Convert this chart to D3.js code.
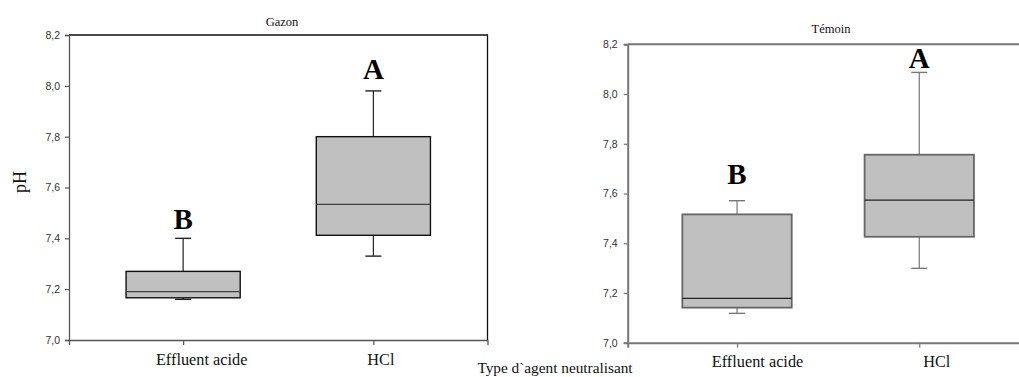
<!DOCTYPE html>
<html>
<head>
<meta charset="utf-8">
<script src="https://cdn.jsdelivr.net/npm/d3@7"></script>
<style>
  body { margin: 0; background: #fff; }
  svg { display: block; }
</style>
</head>
<body>
<svg id="chart" width="1019" height="377"></svg>
<script>
// categories and five-number summaries [min, q1, median, q3, max]
const categories = ['Effluent acide', 'HCl'];
const gazonStats = [
    [7.16, 7.166, 7.19, 7.27, 7.40],
    [7.33, 7.412, 7.534, 7.80, 7.98]
];
const temoinStats = [
    [7.118, 7.141, 7.178, 7.516, 7.571],
    [7.299, 7.426, 7.573, 7.756, 8.087]
];
// significance letters and the pH level where they sit
const gazonLetters = ['B', 'A'];
const gazonLetterY = [7.435, 8.025];
const temoinLetters = ['B', 'A'];
const temoinLetterY = [7.64, 8.105];
const yTicks = [7.0, 7.2, 7.4, 7.6, 7.8, 8.0, 8.2];

const svg = d3.select('#chart');
const fmt = d => d3.format('.1f')(d).replace('.', ',');
const SERIF = 'Liberation Serif, Times New Roman, serif';

/**
 * one box plot panel
 */
const drawPanel = (cfg) => {
    const x = d3.scalePoint().domain(categories).range([cfg.left, cfg.right]).padding(0.6);
    const y = d3.scaleLinear().domain([7.0, 8.2]).range([cfg.bottom, cfg.top]);
    const boxW = x.step() * 0.6;
    const g = svg.append('g');

    // frame top + right
    g.append('path')
        .attr('d', `M${cfg.left},${cfg.top}H${cfg.right}V${cfg.bottom}`)
        .attr('fill', 'none')
        .attr('stroke', cfg.frameColor)
        .attr('stroke-width', cfg.lineW);

    const yAxis = g.append('g')
        .attr('transform', `translate(${cfg.left},0)`)
        .call(d3.axisLeft(y).tickValues(yTicks).tickFormat(fmt).tickSizeOuter(0).tickSize(4).tickPadding(cfg.tickPad));
    yAxis.select('.domain').attr('stroke', cfg.axisColor).attr('stroke-width', cfg.lineW);
    yAxis.selectAll('.tick line').attr('stroke', cfg.axisColor).attr('stroke-width', 1.2);
    yAxis.selectAll('.tick text')
        .attr('font-family', 'Liberation Sans, Arial, sans-serif')
        .attr('font-size', 10.5)
        .attr('fill', '#333');

    const xAxis = g.append('g')
        .attr('transform', `translate(0,${cfg.bottom})`)
        .call(d3.axisBottom(x).tickSizeOuter(0).tickSize(5).tickPadding(8));
    xAxis.select('.domain').attr('stroke', cfg.axisColor).attr('stroke-width', cfg.lineW);
    xAxis.selectAll('.tick line').attr('stroke', cfg.axisColor).attr('stroke-width', 1.2);
    xAxis.selectAll('.tick text')
        .attr('dx', (d, i) => cfg.labelShift[i])
        .attr('font-family', SERIF)
        .attr('font-size', 16.3)
        .attr('fill', '#111');

    const boxes = g.selectAll('.box')
        .data(cfg.stats)
        .enter()
        .append('g')
        .attr('class', 'box')
        .attr('transform', (d, i) => `translate(${x(categories[i])},0)`);

    // whiskers
    boxes.append('line')
        .attr('y1', d => y(d[4])).attr('y2', d => y(d[3]))
        .attr('stroke', cfg.whiskerColor).attr('stroke-width', 1.2);
    boxes.append('line')
        .attr('y1', d => y(d[0])).attr('y2', d => y(d[1]))
        .attr('stroke', cfg.whiskerColor).attr('stroke-width', 1.2);
    boxes.append('line')
        .attr('x1', -8).attr('x2', 8)
        .attr('y1', d => y(d[4])).attr('y2', d => y(d[4]))
        .attr('stroke', cfg.whiskerColor).attr('stroke-width', 1.4);
    boxes.append('line')
        .attr('x1', -8).attr('x2', 8)
        .attr('y1', d => y(d[0])).attr('y2', d => y(d[0]))
        .attr('stroke', cfg.whiskerColor).attr('stroke-width', 1.4);

    boxes.append('rect')
        .attr('x', -boxW / 2)
        .attr('width', boxW)
        .attr('y', d => y(d[3]))
        .attr('height', d => y(d[1]) - y(d[3]))
        .attr('fill', '#c0c0c0')
        .attr('stroke', cfg.boxColor)
        .attr('stroke-width', cfg.boxLineW);

    boxes.append('line')
        .attr('x1', -boxW / 2).attr('x2', boxW / 2)
        .attr('y1', d => y(d[2])).attr('y2', d => y(d[2]))
        .attr('stroke', cfg.medianColor).attr('stroke-width', 1.3);

    g.selectAll('.letter')
        .data(cfg.letters)
        .enter()
        .append('text')
        .attr('class', 'letter')
        .attr('x', (d, i) => x(categories[i]))
        .attr('y', (d, i) => y(cfg.letterY[i]))
        .attr('text-anchor', 'middle')
        .attr('font-family', SERIF)
        .attr('font-weight', 'bold')
        .attr('font-size', 29)
        .attr('fill', '#000')
        .text(d => d);

    g.append('text')
        .attr('x', cfg.titleX)
        .attr('y', cfg.titleY)
        .attr('text-anchor', 'middle')
        .attr('font-family', SERIF)
        .attr('font-size', 12.5)
        .attr('fill', '#111')
        .text(cfg.title);
};

drawPanel({
    left: 69, right: 487.5, top: 35, bottom: 340,
    stats: gazonStats, letters: gazonLetters, letterY: gazonLetterY,
    title: 'Gazon', titleX: 282, titleY: 26,
    labelShift: [18, 7], tickPad: 5,
    frameColor: '#111', axisColor: '#555', lineW: 1.3,
    boxColor: '#111', boxLineW: 1.4, medianColor: '#444', whiskerColor: '#222'
});

drawPanel({
    left: 627.7, right: 1028.6, top: 44.3, bottom: 342.7,
    stats: temoinStats, letters: temoinLetters, letterY: temoinLetterY,
    title: 'Témoin', titleX: 831, titleY: 33,
    labelShift: [20, 17], tickPad: 6,
    frameColor: '#777', axisColor: '#777', lineW: 2,
    boxColor: '#666', boxLineW: 1.8, medianColor: '#222', whiskerColor: '#777'
});

// shared axis titles
svg.append('text')
    .attr('transform', 'translate(26,182) rotate(-90)')
    .attr('text-anchor', 'middle')
    .attr('font-family', SERIF)
    .attr('font-size', 18)
    .attr('fill', '#111')
    .text('pH');

svg.append('text')
    .attr('x', 555)
    .attr('y', 373)
    .attr('text-anchor', 'middle')
    .attr('font-family', SERIF)
    .attr('font-size', 15.3)
    .attr('fill', '#111')
    .text('Type d`agent neutralisant');
</script>
</body>
</html>
